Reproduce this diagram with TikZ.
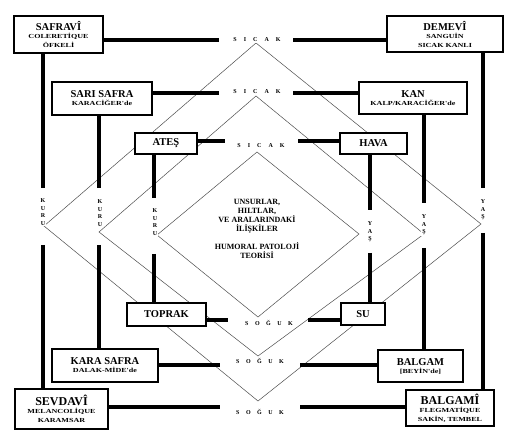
\documentclass[tikz,border=0pt]{standalone}
\usepackage{fontspec}
\setmainfont{Liberation Serif}
\newfontfamily\widefont[FakeStretch=1.3]{Liberation Serif}
\newcommand\boxhead{\fontsize{10.5}{9.5}\selectfont\bfseries}
\newcommand\bighead{\fontsize{12}{10}\selectfont\bfseries}
\newcommand\boxsub{\widefont\fontsize{6.2}{8}\selectfont\bfseries}

\begin{document}
\begin{tikzpicture}[x=1pt,y=-1pt,
  box/.style={draw, fill=white, line width=1.3pt, inner sep=0pt, align=center},
  bar/.style={line width=4.5pt},
  rule/.style={line width=0.5pt, black!70},
  lbl/.style={fill=white, inner sep=1pt, font=\fontsize{6}{7.5}\selectfont\bfseries, align=center},
]
\useasboundingbox (0,0) rectangle (520,441);

% nested diamonds
\coordinate (dOT) at (256,43);  \coordinate (dOL) at (44,226);
\coordinate (dOB) at (258,401); \coordinate (dOR) at (481,224);
\coordinate (dMT) at (256,96);  \coordinate (dML) at (99,232);
\coordinate (dMB) at (258,356); \coordinate (dMR) at (424,234);
\coordinate (dIT) at (257,152); \coordinate (dIL) at (157,235);
\coordinate (dIB) at (258,317); \coordinate (dIR) at (359,234);
\draw[rule] (dOT) -- (dOL) -- (dOB) -- (dOR) -- cycle;
\draw[rule] (dMT) -- (dML) -- (dMB) -- (dMR) -- cycle;
\draw[rule] (dIT) -- (dIL) -- (dIB) -- (dIR) -- cycle;

% temperaments
\node[box, minimum width=89, minimum height=37] (safravi) at (58.5,34.5)
  {\boxhead SAFRAVÎ\\[-4pt] \boxsub COLERETİQUE\\[-3pt] \boxsub ÖFKELİ};
\node[box, minimum width=116, minimum height=36] (demevi) at (445,34)
  {\boxhead DEMEVÎ\\[-4pt] \boxsub SANGUİN\\[-3pt] \boxsub SICAK KANLI};
\node[box, minimum width=93, minimum height=40] (sevdavi) at (61.5,409)
  {\bighead SEVDAVÎ\\[-4pt] \boxsub MELANCOLİQUE\\[-3pt] \boxsub KARAMSAR};
\node[box, minimum width=88, minimum height=36] (balgami) at (450,408)
  {\bighead BALGAMÎ\\[-4pt] \boxsub FLEGMATİQUE\\[-3pt] \boxsub SAKİN, TEMBEL};

% humours
\node[box, minimum width=100, minimum height=33] (sarisafra) at (102,98.5)
  {\boxhead SARI SAFRA\\[-4pt] \boxsub KARACİĞER'de};
\node[box, minimum width=108, minimum height=32] (kan) at (413,98)
  {\boxhead KAN\\[-4pt] \boxsub KALP/KARACİĞER'de};
\node[box, minimum width=106, minimum height=33] (karasafra) at (105,365.5)
  {\boxhead KARA SAFRA\\[-4pt] \boxsub DALAK-MİDE'de};
\node[box, minimum width=85, minimum height=32] (balgam) at (420.5,366)
  {\boxhead BALGAM\\[-4pt] \boxsub [BEYİN'de]};

% elements
\node[box, minimum width=62, minimum height=21, font=\boxhead] (ates) at (166,143.5) {ATEŞ};
\node[box, minimum width=67, minimum height=21, font=\boxhead] (hava) at (373.5,143.5) {HAVA};
\node[box, minimum width=79, minimum height=23, font=\boxhead] (toprak) at (166.5,314.5) {TOPRAK};
\node[box, minimum width=44, minimum height=22, font=\boxhead] (su) at (363,314) {SU};

% title in the middle
\node[align=center, font=\fontsize{8}{9}\selectfont\bfseries] (title) at (257,229)
  {UNSURLAR,\\HILTLAR,\\VE ARALARINDAKİ\\İLİŞKİLER\\[9pt]HUMORAL PATOLOJİ\\TEORİSİ};

% ends of the thick bars
\coordinate (oLa) at (43,188);  \coordinate (oLb) at (43,245);
\coordinate (mLa) at (99,188);  \coordinate (mLb) at (99,245);
\coordinate (iLa) at (154,198); \coordinate (iLb) at (154,254);
\coordinate (iRa) at (370,210); \coordinate (iRb) at (370,253);
\coordinate (mRa) at (424,203); \coordinate (mRb) at (424,248);
\coordinate (oRa) at (483,188); \coordinate (oRb) at (483,233);
\coordinate (oTa) at (219,40);  \coordinate (oTb) at (293,40);
\coordinate (mTa) at (219,93);  \coordinate (mTb) at (293,93);
\coordinate (iTa) at (225,141); \coordinate (iTb) at (298,141);
\coordinate (iBa) at (228,320); \coordinate (iBb) at (308,320);
\coordinate (mBa) at (220,365); \coordinate (mBb) at (300,365);
\coordinate (oBa) at (220,407); \coordinate (oBb) at (300,407);

% vertical bars
\draw[bar] (safravi.south -| oLa) -- (oLa);  \draw[bar] (oLb) -- (sevdavi.north -| oLb);
\draw[bar] (sarisafra.south -| mLa) -- (mLa); \draw[bar] (mLb) -- (karasafra.north -| mLb);
\draw[bar] (ates.south -| iLa) -- (iLa);     \draw[bar] (iLb) -- (toprak.north -| iLb);
\draw[bar] (hava.south -| iRa) -- (iRa);     \draw[bar] (iRb) -- (su.north -| iRb);
\draw[bar] (kan.south -| mRa) -- (mRa);      \draw[bar] (mRb) -- (balgam.north -| mRb);
\draw[bar] (demevi.south -| oRa) -- (oRa);   \draw[bar] (oRb) -- (balgami.north -| oRb);

% horizontal bars
\draw[bar] (safravi.east |- oTa) -- (oTa);   \draw[bar] (oTb) -- (demevi.west |- oTb);
\draw[bar] (sarisafra.east |- mTa) -- (mTa); \draw[bar] (mTb) -- (kan.west |- mTb);
\draw[bar] (ates.east |- iTa) -- (iTa);      \draw[bar] (iTb) -- (hava.west |- iTb);
\draw[bar] (toprak.east |- iBa) -- (iBa);    \draw[bar] (iBb) -- (su.west |- iBb);
\draw[bar] (karasafra.east |- mBa) -- (mBa); \draw[bar] (mBb) -- (balgam.west |- mBb);
\draw[bar] (sevdavi.east |- oBa) -- (oBa);   \draw[bar] (oBb) -- (balgami.west |- oBb);

% quality labels
\node[lbl] (sicakO) at (257,40)  {S\kern7pt I\kern7pt C\kern7pt A\kern7pt K};
\node[lbl] (sicakM) at (257,92)  {S\kern7pt I\kern7pt C\kern7pt A\kern7pt K};
\node[lbl] (sicakI) at (261,146) {S\kern7pt I\kern7pt C\kern7pt A\kern7pt K};
\node[lbl] (sogukI) at (269,323) {S\kern6.5pt O\kern6.5pt Ğ\kern6.5pt U\kern6.5pt K};
\node[lbl] (sogukM) at (260,361) {S\kern6.5pt O\kern6.5pt Ğ\kern6.5pt U\kern6.5pt K};
\node[lbl] (sogukO) at (260,412) {S\kern6.5pt O\kern6.5pt Ğ\kern6.5pt U\kern6.5pt K};
\node[lbl] (kuruO) at (43,212)  {K\\U\\R\\U};
\node[lbl] (kuruM) at (100,213) {K\\U\\R\\U};
\node[lbl] (kuruI) at (155,222) {K\\U\\R\\U};
\node[lbl] (yasO) at (483,210) {Y\\A\\Ş};
\node[lbl] (yasM) at (424,225) {Y\\A\\Ş};
\node[lbl] (yasI) at (370,232) {Y\\A\\Ş};
\end{tikzpicture}
\end{document}
